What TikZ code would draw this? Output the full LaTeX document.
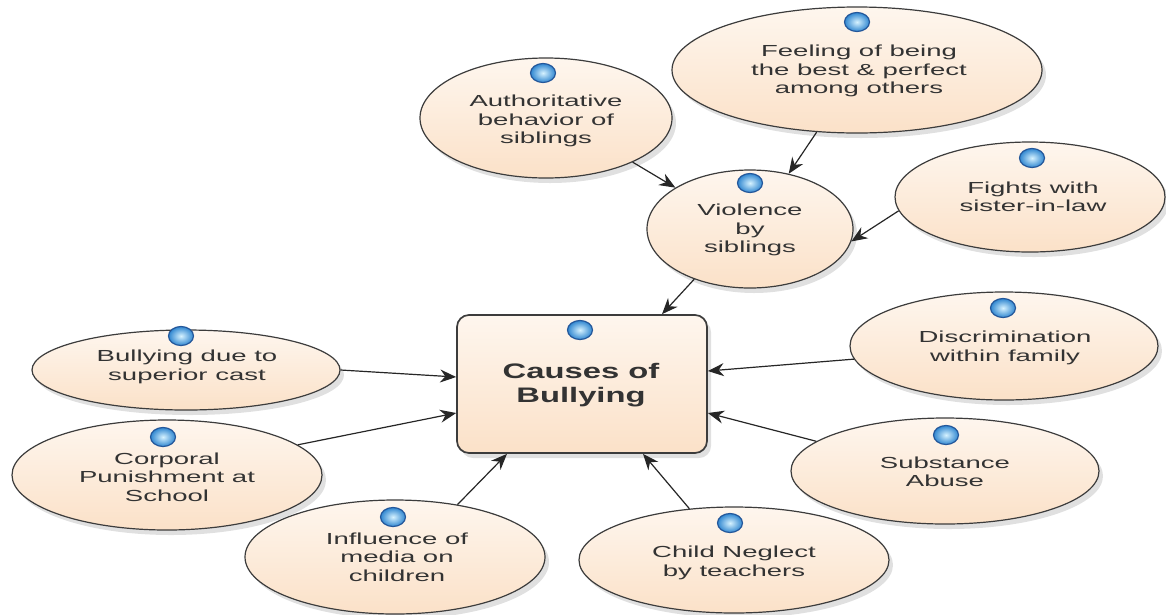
\documentclass[tikz,border=0pt]{standalone}
\usepackage{fontspec}
\setmainfont{Liberation Sans}[FakeStretch=1.72]
\newfontfamily\ctrfont{Liberation Sans}[FakeStretch=1.56]
\usetikzlibrary{shapes.geometric,arrows.meta,shadows}
\definecolor{txtc}{HTML}{333333}
\definecolor{peachA}{HTML}{FEF6EE}
\definecolor{peachB}{HTML}{FBE1C8}
\definecolor{rim}{HTML}{3C3C3C}
\definecolor{ballin}{HTML}{D6F2FF}
\definecolor{ballout}{HTML}{2F86D0}
\definecolor{ballrim}{HTML}{24579A}
\begin{document}
\begin{tikzpicture}[x=1pt,y=-1pt,
  bubble/.style={ellipse, draw=rim, line width=1.2pt, top color=peachA, bottom color=peachB,
    inner sep=0pt, drop shadow={shadow xshift=4pt, shadow yshift=-5pt, fill=black, opacity=0.12}},
  ctrbox/.style={rectangle, rounded corners=12pt, draw=rim, line width=1.7pt, top color=peachA, bottom color=peachB,
    inner sep=0pt, drop shadow={shadow xshift=4pt, shadow yshift=-5pt, fill=black, opacity=0.12}},
  icon/.style={ellipse, minimum width=25pt, minimum height=19pt, inner sep=0pt, draw=ballrim, line width=1.2pt,
    inner color=ballin, outer color=ballout},
  btext/.style={text=txtc, font=\fontsize{16}{18.5}\selectfont, align=center, inner sep=0pt},
  ctext/.style={text=txtc, font=\ctrfont\bfseries\fontsize{21}{24}\selectfont, align=center, inner sep=0pt},
  arr/.style={draw=black!85, line width=1.2pt, -{Stealth[length=16pt,width=13pt]}}]
\useasboundingbox (0,0) rectangle (1166,614);
\fill[white] (0,0) rectangle (1166,614);

% ellipses
\node[bubble, minimum width=252pt, minimum height=120pt] (auth) at (546,118) {};
\node[bubble, minimum width=370pt, minimum height=126pt] (feel) at (857,70) {};
\node[bubble, minimum width=270pt, minimum height=110pt] (fight) at (1030,197) {};
\node[bubble, minimum width=206pt, minimum height=118pt] (viol) at (750,229) {};
\node[ctrbox, minimum width=250pt, minimum height=138pt] (box) at (582,384) {};
\node[bubble, minimum width=308pt, minimum height=80pt] (sup) at (186,370) {};
\node[bubble, minimum width=310pt, minimum height=110pt] (corp) at (167,475) {};
\node[bubble, minimum width=300pt, minimum height=114pt] (infl) at (395,557) {};
\node[bubble, minimum width=310pt, minimum height=106pt] (negl) at (734,560) {};
\node[bubble, minimum width=308pt, minimum height=106pt] (subst) at (945,471) {};
\node[bubble, minimum width=308pt, minimum height=108pt] (disc) at (1004,346) {};

% icons
\node[icon] (auth-i) at (543,73) {};
\node[icon] (feel-i) at (857,22) {};
\node[icon] (fight-i) at (1032,158) {};
\node[icon] (viol-i) at (750,183) {};
\node[icon] (box-i) at (580,330) {};
\node[icon] (sup-i) at (181,336) {};
\node[icon] (corp-i) at (163,437) {};
\node[icon] (infl-i) at (393,517) {};
\node[icon] (negl-i) at (730,523) {};
\node[icon] (subst-i) at (946,435) {};
\node[icon] (disc-i) at (1003,308) {};

% texts
\node[btext] (auth-t) at (546,121) {Authoritative\\behavior of\\siblings};
\node[btext] (feel-t) at (859,71) {Feeling of being\\the best \& perfect\\among others};
\node[btext] (fight-t) at (1033,197) {Fights with\\sister-in-law};
\node[btext] (viol-t) at (750,230) {Violence\\by\\siblings};
\node[ctext] (box-t) at (581,385) {Causes of\\Bullying};
\node[btext] (sup-t) at (187,367) {Bullying due to\\superior cast};
\node[btext] (corp-t) at (167,477) {Corporal\\Punishment at\\School};
\node[btext] (infl-t) at (397,557) {Influence of\\media on\\children};
\node[btext] (negl-t) at (734,563) {Child Neglect\\by teachers};
\node[btext] (subst-t) at (945,472) {Substance\\Abuse};
\node[btext] (disc-t) at (1005,348) {Discrimination\\within family};

% connectors
\draw[arr] (auth.-27) -- (viol.151);
\draw[arr] (feel.-123) -- (viol.55);
\draw[arr] (fight.186) -- (viol.-7);
\draw[arr] (viol.-138) -- ([xshift=80pt]box.north);
\draw[arr] (sup.east) -- ([yshift=7pt]box.west);
\draw[arr] (corp.13) -- ([yshift=-29pt]box.west);
\draw[arr] (infl.40) -- ([xshift=-75pt]box.south);
\draw[arr] (negl.131) -- ([xshift=61pt]box.south);
\draw[arr] (subst.167) -- ([yshift=-29pt]box.east);
\draw[arr] (disc.185) -- ([yshift=13pt]box.east);
\end{tikzpicture}
\end{document}
